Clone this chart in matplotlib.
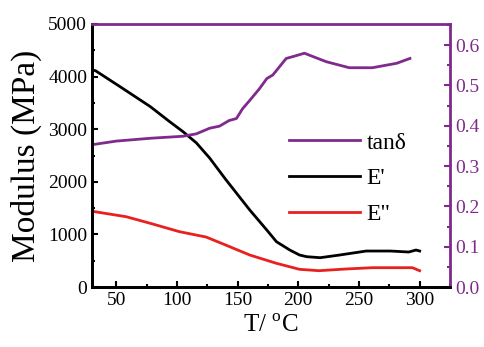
import matplotlib
matplotlib.use("Agg")
import matplotlib.pyplot as plt
from matplotlib.ticker import MultipleLocator

plt.rcParams['font.family'] = ['Liberation Serif', 'DejaVu Serif']
plt.rcParams['mathtext.fontset'] = 'custom'
plt.rcParams['mathtext.rm'] = 'Liberation Serif'

# storage modulus E' (MPa)
t_e1 = [30, 33, 53, 78, 94, 105, 116, 127, 140, 160, 174, 182, 193, 201, 207, 218, 234, 256, 276, 291, 295, 297, 300]
e1 = [4130, 4110, 3810, 3430, 3143, 2953, 2740, 2450, 2050, 1464, 1084, 861, 703, 608, 576, 557, 608, 684, 684, 665, 690, 703, 684]

# loss modulus E'' (MPa)
t_e2 = [30, 58, 78, 102, 124, 141, 160, 182, 201, 217, 239, 261, 294, 300]
e2 = [1440, 1337, 1211, 1052, 950, 790, 608, 450, 336, 310, 342, 367, 367, 310]

# tan delta
t_tan = [30, 50, 78, 105, 116, 127, 135, 143, 149, 154, 160, 168, 174, 179, 190, 196, 205, 223, 242, 261, 281, 292]
tan_d = [0.353, 0.362, 0.369, 0.374, 0.380, 0.394, 0.399, 0.413, 0.418, 0.442, 0.463, 0.492, 0.517, 0.526, 0.567, 0.572, 0.580, 0.559, 0.544, 0.544, 0.555, 0.567]

purple = '#7f2a8c'
red = '#e8201f'

fig = plt.figure(figsize=(4.85, 3.47), dpi=100)
ax = fig.add_axes([92/485, 1-287/347, 358/485, 263/347])
ax2 = ax.twinx()

l2, = ax.plot(t_e1, e1, color='black', lw=2)
l3, = ax.plot(t_e2, e2, color=red, lw=2)
l1, = ax2.plot(t_tan, tan_d, color=purple, lw=2)

ax.set_xlim(30, 325)
ax.set_ylim(0, 5000)
ax2.set_ylim(0, 0.6525)

ax.xaxis.set_major_locator(MultipleLocator(50))
ax.xaxis.set_minor_locator(MultipleLocator(25))
ax.yaxis.set_major_locator(MultipleLocator(1000))
ax.yaxis.set_minor_locator(MultipleLocator(500))
ax2.yaxis.set_major_locator(MultipleLocator(0.1))
ax2.yaxis.set_minor_locator(MultipleLocator(0.05))
ax2.yaxis.set_major_formatter(plt.FormatStrFormatter('%.1f'))

ax.tick_params(which='both', direction='in', width=1.5, labelsize=14, top=False)
ax.tick_params(which='major', length=4)
ax.tick_params(which='minor', length=2.5)
ax2.tick_params(which='both', direction='in', width=1.5, labelsize=14, colors=purple)
ax2.tick_params(which='major', length=4)
ax2.tick_params(which='minor', length=2.5)

for s in ['left', 'bottom']:
    ax.spines[s].set_linewidth(2)
ax2.spines['right'].set_color(purple)
ax2.spines['right'].set_linewidth(2)
ax2.spines['top'].set_color(purple)
ax2.spines['top'].set_linewidth(2)
ax2.spines['left'].set_linewidth(2)
ax2.spines['bottom'].set_linewidth(2)
ax.spines['top'].set_visible(False)

ax.set_ylabel('Modulus (MPa)', fontsize=24, labelpad=4)
ax.set_xlabel('T/ $^{\\mathrm{o}}$C', fontsize=18, labelpad=4)

ax2.legend([l1, l2, l3], ['tan\u03b4', "E'", 'E"'], loc='upper left',
           bbox_to_anchor=(0.49, 0.67), frameon=False, fontsize=17,
           handlelength=3.0, labelspacing=0.6, handletextpad=0.3)

fig.savefig('out.png', dpi=100)
